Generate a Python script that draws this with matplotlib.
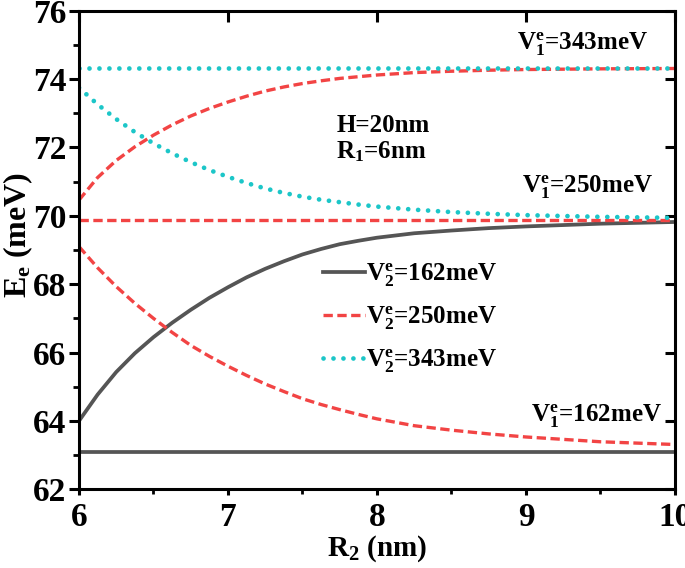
import matplotlib
matplotlib.use("Agg")
import matplotlib.pyplot as plt
from matplotlib.ticker import MultipleLocator

plt.rcParams['font.family'] = ['Liberation Serif', 'DejaVu Serif']
plt.rcParams['font.weight'] = 'bold'
plt.rcParams['mathtext.fontset'] = 'custom'
plt.rcParams['mathtext.rm'] = 'Liberation Serif:bold'
plt.rcParams['mathtext.bf'] = 'Liberation Serif:bold'
plt.rcParams['mathtext.it'] = 'Liberation Serif:bold'

# R2 (nm)
r2 = [6.0, 6.125, 6.25, 6.375, 6.5, 6.625, 6.75, 6.875, 7.0, 7.125, 7.25, 7.375,
      7.5, 7.625, 7.75, 7.875, 8.0, 8.25, 8.5, 8.75, 9.0, 9.5, 10.0]

# flat lines (V2 equal to V1)
flat_162 = [63.10] * len(r2)
flat_250 = [69.89] * len(r2)
flat_343 = [74.32] * len(r2)

# curves
gray_rise = [64.00, 64.77, 65.43, 65.98, 66.45, 66.87, 67.25, 67.60, 67.91, 68.20, 68.45, 68.67,
             68.87, 69.03, 69.17, 69.27, 69.36, 69.49, 69.57, 69.64, 69.69, 69.77, 69.82]
red_fall = [69.10, 68.48, 67.93, 67.44, 67.00, 66.59, 66.21, 65.89, 65.60, 65.33, 65.08, 64.86,
            64.65, 64.48, 64.33, 64.19, 64.06, 63.86, 63.73, 63.62, 63.53, 63.39, 63.31]
red_rise = [70.46, 71.12, 71.62, 72.02, 72.36, 72.66, 72.92, 73.14, 73.33, 73.50, 73.65, 73.77,
            73.87, 73.95, 74.02, 74.07, 74.12, 74.19, 74.23, 74.26, 74.28, 74.30, 74.31]
cyan_fall = [73.75, 73.26, 72.83, 72.45, 72.12, 71.83, 71.57, 71.34, 71.14, 70.96, 70.80, 70.67,
             70.56, 70.47, 70.40, 70.33, 70.27, 70.18, 70.11, 70.06, 70.02, 69.97, 69.94]

gray = '#555555'
red = '#f24444'
cyan = '#1cc6c8'
dash = (0, (2.8, 1.35))
dot = (0, (0.01, 2.1))

fig = plt.figure(figsize=(6.85, 5.68), dpi=100)
ax = fig.add_axes([0.1153, 0.1386, 0.870, 0.8425])

l1, = ax.plot(r2, flat_162, color=gray, lw=2.7)
ax.plot(r2, gray_rise, color=gray, lw=2.7)
l2, = ax.plot(r2, flat_250, color=red, lw=2.4, linestyle=dash)
ax.plot(r2, red_fall, color=red, lw=2.4, linestyle=dash)
ax.plot(r2, red_rise, color=red, lw=2.4, linestyle=dash)
l3, = ax.plot(r2, flat_343, color=cyan, lw=3.4, linestyle=dot, dash_capstyle='round')
ax.plot(r2, cyan_fall, color=cyan, lw=3.4, linestyle=dot, dash_capstyle='round')

ax.set_xlim(6, 10)
ax.set_ylim(62, 76)
ax.xaxis.set_major_locator(MultipleLocator(1))
ax.xaxis.set_minor_locator(MultipleLocator(0.5))
ax.yaxis.set_major_locator(MultipleLocator(2))
ax.yaxis.set_minor_locator(MultipleLocator(1))

for s in ax.spines.values():
    s.set_linewidth(2.2)
ax.tick_params(axis='x', which='major', direction='out', length=4.5, width=2.2, labelsize=24, pad=5)
ax.tick_params(axis='y', which='major', direction='out', length=7, width=2.2, labelsize=24, pad=2)
ax.tick_params(axis='x', which='minor', direction='out', length=3.5, width=2.0)
ax.tick_params(axis='y', which='minor', direction='out', length=4, width=2.0)

# inward majors on top and right
sec = ax.secondary_xaxis('top')
sec.xaxis.set_major_locator(MultipleLocator(1))
sec.tick_params(direction='in', length=8, width=2.2, labeltop=False)
sec.spines['top'].set_visible(False)
sey = ax.secondary_yaxis('right')
sey.yaxis.set_major_locator(MultipleLocator(2))
sey.tick_params(direction='in', length=7.5, width=2.2, labelright=False)
sey.spines['right'].set_visible(False)

for lab in ax.get_xticklabels() + ax.get_yticklabels():
    lab.set_fontweight('bold')

ax.set_xlabel(r'R$_{\mathbf{2}}$ (nm)', fontsize=21, fontweight='bold', labelpad=0)
ax.set_ylabel(r'E$_{\mathbf{e}}$ (meV)', fontsize=23, fontweight='bold', va='center')
ax.yaxis.set_label_coords(-0.102, 0.531)

ax.text(8.94, 74.85, r'V$_{\mathbf{1}}^{\mathbf{e}}$=343meV', fontsize=18, ha='left', va='baseline')
ax.text(7.726, 72.46, 'H=20nm', fontsize=18, ha='left', va='baseline')
ax.text(7.726, 71.68, r'R$_{\mathbf{1}}$=6nm', fontsize=18, ha='left', va='baseline')
ax.text(8.974, 70.66, r'V$_{\mathbf{1}}^{\mathbf{e}}$=250meV', fontsize=18, ha='left', va='baseline')
ax.text(9.034, 63.98, r'V$_{\mathbf{1}}^{\mathbf{e}}$=162meV', fontsize=18, ha='left', va='baseline')

labels = [r'V$_{\mathbf{2}}^{\mathbf{e}}$=162meV',
          r'V$_{\mathbf{2}}^{\mathbf{e}}$=250meV',
          r'V$_{\mathbf{2}}^{\mathbf{e}}$=343meV']
ax.legend([l1, l2, l3], labels, loc='center left', bbox_to_anchor=(0.409, 0.357),
          frameon=False, fontsize=18, handlelength=1.7, handletextpad=0.05,
          labelspacing=0.62, borderpad=0, borderaxespad=0)

fig.savefig('out.png', dpi=100)
